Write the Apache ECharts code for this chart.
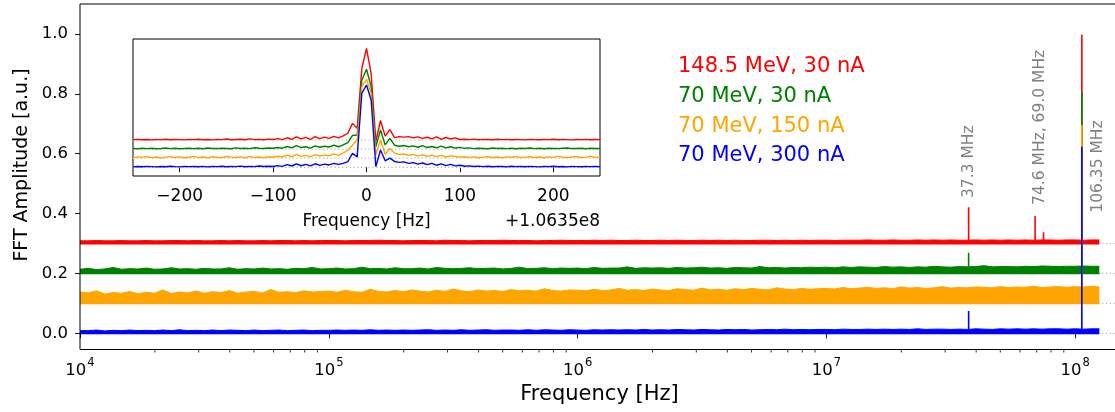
<!DOCTYPE html>
<html>
<head>
<meta charset="utf-8">
<script src="https://cdn.jsdelivr.net/npm/echarts@6/dist/echarts.min.js"></script>
<style>
  html, body { margin: 0; padding: 0; background: #ffffff; }
  #chart { width: 1115px; height: 412px; }
</style>
</head>
<body>
<div id="chart"></div>
<script>
// ---------------- data ----------------
// frequency grid of the spectra (Hz), log spaced
const freqHz = [
  1e4,1.08e4,1.166e4,1.259e4,1.359e4,1.468e4,1.585e4,1.711e4,1.848e4,1.995e4,2.154e4,2.326e4,2.512e4,2.712e4,2.929e4,3.162e4,3.415e4,3.687e4,3.981e4,4.299e4,4.642e4,5.012e4,5.412e4,5.843e4,6.31e4,6.813e4,7.356e4,7.943e4,8.577e4,9.261e4,
  1e5,1.08e5,1.166e5,1.259e5,1.359e5,1.468e5,1.585e5,1.711e5,1.848e5,1.995e5,2.154e5,2.326e5,2.512e5,2.712e5,2.929e5,3.162e5,3.415e5,3.687e5,3.981e5,4.299e5,4.642e5,5.012e5,5.412e5,5.843e5,6.31e5,6.813e5,7.356e5,7.943e5,8.577e5,9.261e5,
  1e6,1.08e6,1.166e6,1.259e6,1.359e6,1.468e6,1.585e6,1.711e6,1.848e6,1.995e6,2.154e6,2.326e6,2.512e6,2.712e6,2.929e6,3.162e6,3.415e6,3.687e6,3.981e6,4.299e6,4.642e6,5.012e6,5.412e6,5.843e6,6.31e6,6.813e6,7.356e6,7.943e6,8.577e6,9.261e6,
  1e7,1.08e7,1.166e7,1.259e7,1.359e7,1.468e7,1.585e7,1.711e7,1.848e7,1.995e7,2.154e7,2.326e7,2.512e7,2.712e7,2.929e7,3.162e7,3.415e7,3.687e7,3.981e7,4.299e7,4.642e7,5.012e7,5.412e7,5.843e7,6.31e7,6.813e7,7.356e7,7.943e7,8.577e7,9.261e7,
  1e8,1.08e8,1.166e8,1.25e8
];

const seriesNames = ['148.5 MeV, 30 nA', '70 MeV, 30 nA', '70 MeV, 150 nA', '70 MeV, 300 nA'];
const seriesColors = ['#ff0000', '#008000', '#ffa500', '#0000ff'];
// vertical offset of each spectrum in the waterfall
const seriesOffsets = [0.3, 0.2, 0.1, 0.0];

// noise floor envelope of each spectrum above its offset (units of 1e-3)
const redNoise = [
  9,9,10,9,9,10,9,9,10,9,9,10,10,9,10,9,9,10,9,10,9,9,10,9,10,10,9,10,9,10,
  10,10,9,10,10,10,11,10,10,9,10,10,10,9,11,10,10,9,10,10,10,11,10,10,10,9,10,10,11,10,
  10,10,11,10,11,10,10,11,10,10,11,10,11,10,10,11,10,11,10,11,10,10,11,11,10,11,10,11,10,11,
  11,10,11,11,11,12,11,11,12,11,11,12,11,12,11,12,11,11,12,11,12,11,12,11,12,11,12,12,11,12,
  12,11,12,12
];
const greenNoise = [
  14,17,13,15,20,14,16,15,18,14,15,19,15,16,14,17,15,15,19,14,16,15,18,15,16,14,17,16,20,15,
  16,18,15,16,21,16,17,15,19,16,16,18,15,20,17,16,17,19,16,17,18,15,17,21,16,17,19,16,18,17,
  18,16,20,17,18,18,22,17,19,18,19,17,20,18,19,21,18,19,17,20,19,18,23,19,20,18,20,19,21,20,
  21,19,22,20,22,21,20,23,21,22,20,22,21,24,22,21,23,22,23,26,22,23,23,22,24,23,25,24,23,24,
  24,25,24,24
];
const orangeNoise = [
  38,35,42,31,36,34,40,32,37,34,45,33,38,35,41,34,39,36,43,34,38,40,35,46,37,39,36,42,38,40,
  41,37,44,39,37,47,40,38,43,39,45,41,38,44,40,48,42,39,45,41,43,40,46,42,44,41,49,43,41,45,
  44,42,47,43,45,50,44,46,43,48,45,43,49,46,44,51,45,47,44,49,46,50,47,45,52,48,46,50,47,49,
  50,48,53,49,51,54,50,52,49,55,51,53,50,52,56,51,53,52,55,54,52,56,53,55,54,57,53,55,56,54,
  56,55,57,55
];
const blueNoise = [
  9,9,11,8,10,9,11,9,10,9,11,9,12,9,10,9,11,9,11,10,9,11,9,10,11,9,10,11,9,10,
  10,11,10,11,10,12,10,11,10,11,10,11,12,10,11,10,12,10,11,12,10,11,11,10,12,10,12,11,10,12,
  11,10,12,11,12,11,12,11,13,11,12,11,13,12,11,13,12,11,13,12,13,11,12,13,12,14,12,13,12,13,
  13,12,14,13,13,14,13,14,13,14,13,15,13,14,14,13,14,13,15,14,13,15,14,15,14,15,14,15,15,14,
  15,14,15,15
];
const noiseBySeries = [redNoise, greenNoise, orangeNoise, blueNoise];

// discrete lines: [frequency Hz, peak amplitude]
const redPeaks = [[37.3e6, 0.421], [69.0e6, 0.392], [74.6e6, 0.338], [106.35e6, 0.997]];
const greenPeaks = [[37.3e6, 0.269], [106.35e6, 0.807]];
const orangePeaks = [[106.35e6, 0.696]];
const bluePeaks = [[37.3e6, 0.0745], [106.35e6, 0.623]];
const peaksBySeries = [redPeaks, greenPeaks, orangePeaks, bluePeaks];

// line annotations: text, anchor frequency, anchor amplitude
const annotationTexts = ['37.3 MHz', '74.6 MHz, 69.0 MHz', '106.35 MHz'];
const annotationFreqs = [37.3e6, 72.4e6, 123.9e6];
const annotationAmps = [0.452, 0.429, 0.403];

// zoom around the 106.35 MHz line: offset from 1.0635e8 Hz
const insetOffsetHz = [
  -250,-245,-240,-235,-230,-225,-220,-215,-210,-205,-200,-195,-190,-185,-180,-175,-170,-165,-160,-155,
  -150,-145,-140,-135,-130,-125,-120,-115,-110,-105,-100,-95,-90,-85,-80,-75,-70,-65,-60,-55,
  -50,-45,-40,-35,-30,-25,-20,-15,-10,-5,0,5,10,15,20,25,30,35,40,45,
  50,55,60,65,70,75,80,85,90,95,100,105,110,115,120,125,130,135,140,145,
  150,155,160,165,170,175,180,185,190,195,200,205,210,215,220,225,230,235,240,245,250
];
const insetOffsets = [0.21, 0.14, 0.07, 0.0];
const insetRed = [
  0.213,0.215,0.212,0.214,0.211,0.214,0.213,0.216,0.212,0.214,0.213,0.211,0.215,0.213,0.216,0.212,0.214,0.211,0.215,0.213,
  0.218,0.212,0.214,0.216,0.212,0.219,0.213,0.215,0.212,0.217,
  0.214,0.221,0.213,0.227,0.215,0.234,0.218,0.23,0.214,0.236,0.22,0.232,0.223,0.238,0.226,
  0.241,0.262,0.338,0.3,0.76,0.915,0.72,0.2,0.36,0.24,0.29,0.228,
  0.236,0.232,0.236,0.226,0.234,0.222,0.231,0.219,0.234,0.215,0.229,0.218,0.226,0.214,
  0.216,0.213,0.217,0.212,0.215,0.214,0.212,0.216,0.213,0.215,0.212,0.214,0.213,0.211,0.215,
  0.213,0.212,0.214,0.213,0.216,0.212,0.214,0.213,0.211,0.214,0.213,0.215,0.212,0.214,0.213
];
const insetGreen = [
  0.145,0.143,0.146,0.144,0.147,0.143,0.145,0.148,0.144,0.146,0.143,0.145,0.147,0.144,0.146,0.143,0.148,0.145,0.144,0.147,
  0.145,0.143,0.149,0.145,0.147,0.144,0.15,0.146,0.145,0.148,
  0.146,0.152,0.147,0.16,0.149,0.166,0.152,0.158,0.148,0.165,0.154,0.162,0.156,0.17,0.158,
  0.172,0.19,0.245,0.248,0.67,0.754,0.62,0.158,0.287,0.172,0.223,0.17,
  0.162,0.168,0.158,0.165,0.154,0.166,0.152,0.16,0.15,0.163,0.149,0.158,0.148,0.153,
  0.146,0.149,0.144,0.147,0.145,0.143,0.148,0.145,0.146,0.144,0.147,0.143,0.146,0.145,0.148,
  0.144,0.146,0.143,0.147,0.145,0.144,0.146,0.148,0.144,0.145,0.147,0.143,0.146,0.145,0.144
];
const insetOrange = [
  0.072,0.08,0.076,0.083,0.074,0.079,0.071,0.078,0.082,0.075,0.08,0.073,0.077,0.084,0.076,0.079,0.072,0.081,0.077,0.074,
  0.083,0.078,0.075,0.08,0.073,0.082,0.076,0.079,0.074,0.081,
  0.077,0.085,0.079,0.093,0.081,0.099,0.084,0.092,0.08,0.097,0.087,0.094,0.089,0.103,0.092,
  0.11,0.13,0.172,0.21,0.62,0.677,0.57,0.095,0.21,0.1,0.145,0.11,
  0.098,0.102,0.091,0.099,0.088,0.096,0.084,0.094,0.082,0.092,0.079,0.088,0.083,0.078,
  0.081,0.076,0.08,0.073,0.078,0.082,0.075,0.079,0.072,0.08,0.077,0.083,0.074,0.078,0.081,
  0.075,0.079,0.073,0.08,0.076,0.084,0.077,0.074,0.079,0.082,0.075,0.078,0.085,0.076,0.08
];
const insetBlue = [
  0.003,0.006,0.004,0.007,0.005,0.003,0.006,0.004,0.008,0.005,0.003,0.007,0.005,0.006,0.004,0.007,0.003,0.006,0.005,0.008,
  0.004,0.006,0.005,0.009,0.004,0.007,0.005,0.01,0.006,0.008,
  0.006,0.013,0.007,0.02,0.01,0.026,0.012,0.022,0.011,0.027,0.015,0.024,0.018,0.03,0.022,
  0.03,0.043,0.108,0.08,0.57,0.633,0.518,0.005,0.133,0.05,0.07,0.045,
  0.038,0.042,0.03,0.036,0.024,0.033,0.02,0.03,0.016,0.026,0.013,0.022,0.011,0.016,
  0.008,0.011,0.006,0.009,0.005,0.008,0.004,0.007,0.006,0.003,0.008,0.005,0.006,0.004,0.007,
  0.005,0.003,0.006,0.005,0.008,0.004,0.006,0.003,0.007,0.005,0.004,0.006,0.005,0.007,0.004
];
const insetBySeries = [insetRed, insetGreen, insetOrange, insetBlue];

// axis ticks
const yTickValues = [0, 0.2, 0.4, 0.6, 0.8, 1.0];
const xMinorTicks = [
  2e4,3e4,4e4,5e4,6e4,7e4,8e4,9e4,
  2e5,3e5,4e5,5e5,6e5,7e5,8e5,9e5,
  2e6,3e6,4e6,5e6,6e6,7e6,8e6,9e6,
  2e7,3e7,4e7,5e7,6e7,7e7,8e7,9e7
];
const insetTickValues = [-200, -100, 0, 100, 200];
const insetOffsetLabel = '+1.0635e8';

// ---------------- chart ----------------
const FONT = 'DejaVu Sans';
const X_MIN = 1e4, X_MAX = 1.5e8, Y_MIN = -0.054, Y_MAX = 1.1;
const INSET_Y_MIN = -0.067, INSET_Y_MAX = 0.987;

const chart = echarts.init(document.getElementById('chart'), null, { renderer: 'canvas' });

const series = [];

// dotted reference lines at each offset
seriesOffsets.forEach(function (off) {
  series.push({
    type: 'line', xAxisIndex: 0, yAxisIndex: 0, silent: true, symbol: 'none',
    data: [[X_MIN, off], [X_MAX, off]],
    lineStyle: { color: '#b4b4b4', width: 1.2, type: [1.2, 2.6] }, z: 1
  });
});

// spectra bands and their discrete lines
seriesNames.forEach(function (name, k) {
  const off = seriesOffsets[k];
  const noise = noiseBySeries[k];
  series.push({
    name: name, type: 'line', xAxisIndex: 0, yAxisIndex: 0, symbol: 'none', silent: true,
    data: freqHz.map(function (f, i) { return [f, off + noise[i] / 1000]; }),
    lineStyle: { color: seriesColors[k], width: 1 },
    areaStyle: { color: seriesColors[k], opacity: 1, origin: off - 0.003 },
    z: 2
  });
  peaksBySeries[k].forEach(function (p) {
    series.push({
      type: 'line', xAxisIndex: 0, yAxisIndex: 0, symbol: 'none', silent: true,
      data: [[p[0], off], [p[0], p[1]]],
      lineStyle: { color: seriesColors[k], width: 1.6 },
      z: 2
    });
  });
});

// minor ticks of the log frequency axis
series.push({
  type: 'custom', xAxisIndex: 0, yAxisIndex: 0, silent: true, clip: false,
  data: xMinorTicks.map(function (f) { return [f, Y_MIN]; }),
  encode: { x: 0, y: 1 },
  renderItem: function (params, api) {
    const p = api.coord([api.value(0), Y_MIN]);
    return {
      type: 'line',
      shape: { x1: p[0], y1: p[1], x2: p[0], y2: p[1] + 3 },
      style: { stroke: '#000', lineWidth: 0.8 }
    };
  },
  z: 5
});

// inset: dotted offsets and zoomed spectra
insetOffsets.forEach(function (off) {
  series.push({
    type: 'line', xAxisIndex: 1, yAxisIndex: 1, silent: true, symbol: 'none',
    data: [[-250, off], [250, off]],
    lineStyle: { color: '#b4b4b4', width: 1.2, type: [1.2, 2.6] }, z: 3
  });
});
seriesNames.forEach(function (name, k) {
  series.push({
    type: 'line', xAxisIndex: 1, yAxisIndex: 1, silent: true, symbol: 'none',
    data: insetOffsetHz.map(function (d, i) { return [d, insetBySeries[k][i]]; }),
    lineStyle: { color: seriesColors[k], width: 1.4 },
    z: 4
  });
});

const option = {
  animation: false,
  backgroundColor: '#ffffff',
  textStyle: { fontFamily: FONT },
  grid: [
    { left: 80, top: 4, width: 1039, bottom: 62.5, outerBoundsMode: 'none', containLabel: false,
      show: true, borderColor: '#000', borderWidth: 1, backgroundColor: 'transparent', z: 6 },
    { left: 133, top: 39, width: 467, height: 137, outerBoundsMode: 'none', containLabel: false,
      show: true, borderColor: '#000', borderWidth: 1, backgroundColor: '#ffffff' }
  ],
  xAxis: [
    {
      type: 'log', logBase: 10, gridIndex: 0, min: X_MIN, max: X_MAX,
      axisLine: { show: false },
      axisTick: { show: true, length: 5, lineStyle: { color: '#000', width: 0.9 } },
      splitLine: { show: false },
      axisLabel: {
        margin: 8, showMaxLabel: false, color: '#000',
        formatter: function (v) { return '{b|10}{s|' + Math.round(Math.log10(v)) + '}'; },
        rich: {
          b: { fontFamily: FONT, fontSize: 16.5, color: '#000', lineHeight: 22, verticalAlign: 'bottom' },
          s: { fontFamily: FONT, fontSize: 11.5, color: '#000', lineHeight: 22, verticalAlign: 'top', padding: [0, 0, 0, 1] }
        }
      },
      name: 'Frequency [Hz]', nameLocation: 'middle', nameGap: 31,
      nameTextStyle: { fontFamily: FONT, fontSize: 21, color: '#000' }
    },
    {
      type: 'value', gridIndex: 1, min: -250, max: 250,
      axisLine: { show: false },
      axisTick: { show: true, length: 5, customValues: insetTickValues, lineStyle: { color: '#000', width: 0.9 } },
      splitLine: { show: false },
      axisLabel: {
        customValues: insetTickValues, margin: 12, color: '#000', fontFamily: FONT, fontSize: 17,
        formatter: function (v) { return v < 0 ? '\u2212' + Math.abs(v) : String(v); }
      },
      name: 'Frequency [Hz]', nameLocation: 'middle', nameGap: 37,
      nameTextStyle: { fontFamily: FONT, fontSize: 17, color: '#000' }
    }
  ],
  yAxis: [
    {
      type: 'value', gridIndex: 0, min: Y_MIN, max: Y_MAX,
      axisLine: { show: false },
      axisTick: { show: true, length: 5, customValues: yTickValues, lineStyle: { color: '#000', width: 0.9 } },
      splitLine: { show: false },
      axisLabel: {
        customValues: yTickValues, margin: 12, color: '#000', fontFamily: FONT, fontSize: 16.5,
        formatter: function (v) { return v.toFixed(1); }
      }
    },
    {
      type: 'value', gridIndex: 1, min: INSET_Y_MIN, max: INSET_Y_MAX,
      axisLine: { show: false }, axisTick: { show: false }, axisLabel: { show: false }, splitLine: { show: false }
    }
  ],
  series: series
};

chart.setOption(option);

// text overlays: series labels, axis title, offset label, line annotations
const graphics = [];
seriesNames.forEach(function (name, k) {
  graphics.push({
    type: 'text', left: 678, top: 56 + k * 29.8,
    style: { text: name, fill: seriesColors[k], font: '21px "' + FONT + '"' },
    z: 20
  });
});
graphics.push({
  type: 'text', x: 22, y: 165, rotation: Math.PI / 2,
  style: { text: 'FFT Amplitude [a.u.]', fill: '#000', font: '19px "' + FONT + '"', align: 'center', verticalAlign: 'middle' },
  z: 20
});
const insetRight = chart.convertToPixel({ xAxisIndex: 1, yAxisIndex: 1 }, [250, INSET_Y_MIN]);
graphics.push({
  type: 'text', x: insetRight[0], y: insetRight[1] + 46,
  style: { text: insetOffsetLabel, fill: '#000', font: '17px "' + FONT + '"', align: 'right', verticalAlign: 'middle' },
  z: 20
});
annotationTexts.forEach(function (t, i) {
  const p = chart.convertToPixel({ xAxisIndex: 0, yAxisIndex: 0 }, [annotationFreqs[i], annotationAmps[i]]);
  graphics.push({
    type: 'text', x: p[0], y: p[1], rotation: Math.PI / 2,
    style: { text: t, fill: '#808080', font: '15.5px "' + FONT + '"', align: 'left', verticalAlign: 'middle' },
    z: 20
  });
});
chart.setOption({ graphic: graphics });
</script>
</body>
</html>
